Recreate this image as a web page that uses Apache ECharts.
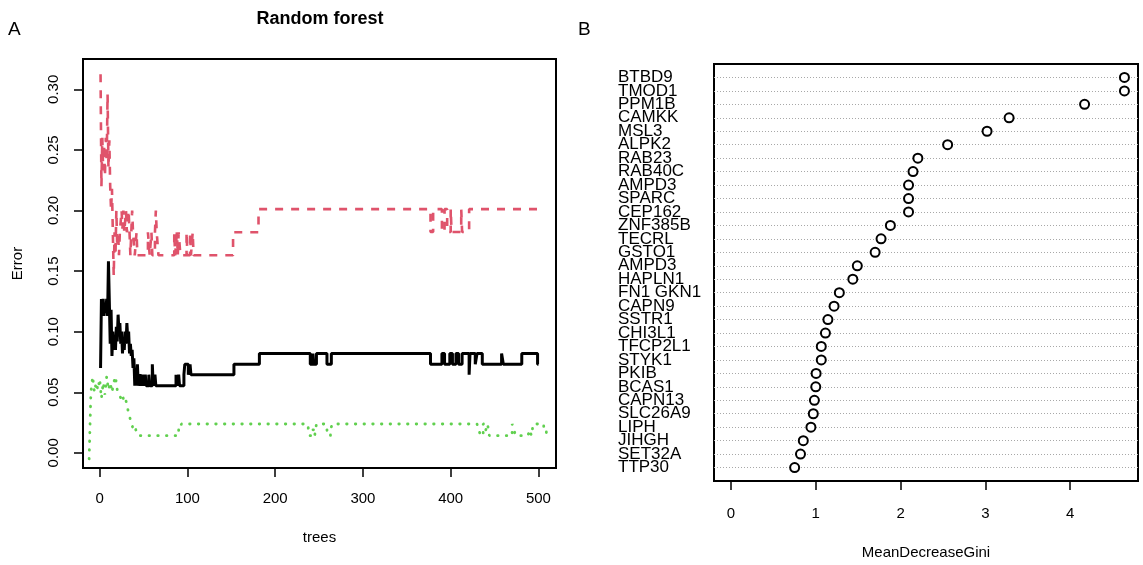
<!doctype html>
<html>
<head>
<meta charset="UTF-8">
<title>Random forest</title>
<script src="https://cdn.jsdelivr.net/npm/echarts@6/dist/echarts.min.js"></script>
<style>
html,body{margin:0;padding:0;background:#fff;}
#main{width:1143px;height:565px;}
</style>
</head>
<body>
<div id="main"></div>
<script>
// A: error rate by number of trees, change points
var oobTrees = [1,2,3,4,5,6,7,8,9,10,11,12,13,14,15,16,17,18,19,20,21,22,23,24,25,26,27,28,29,30,31,32,33,34,35,36,37,38,39,40,41,42,43,44,46,47,49,50,52,53,56,57,60,61,63,64,87,88,90,91,96,97,101,103,104,153,182,240,243,244,247,259,264,377,390,393,399,402,406,409,413,421,422,428,430,436,458,460,481,499,500];
var oobErr = [0.070,0.127,0.118,0.127,0.113,0.122,0.117,0.127,0.113,0.158,0.125,0.09,0.118,0.08,0.1,0.085,0.096,0.085,0.104,0.092,0.114,0.1,0.107,0.09,0.1,0.082,0.094,0.085,0.1,0.09,0.107,0.094,0.1,0.082,0.09,0.08,0.085,0.07,0.078,0.0554,0.0645,0.0554,0.0731,0.0554,0.065,0.0554,0.0645,0.0554,0.0645,0.0554,0.0645,0.0554,0.0731,0.0554,0.0645,0.0554,0.0645,0.0554,0.0645,0.0554,0.0645,0.0731,0.0645,0.0731,0.0645,0.0731,0.0819,0.0731,0.0819,0.0731,0.0819,0.0731,0.0819,0.0731,0.0819,0.0731,0.0819,0.0731,0.0819,0.0731,0.0819,0.0645,0.0819,0.0731,0.0819,0.0731,0.0819,0.0731,0.0819,0.0731,0.0731];

var c1Trees = [1,2,3,4,5,6,7,8,9,10,11,12,13,14,15,16,17,18,19,20,21,22,23,25,26,27,28,30,31,33,34,35,37,38,40,42,43,55,57,59,60,63,64,65,67,85,86,88,89,90,92,99,100,103,104,106,107,152,181,377,380,390,393,396,400,401,408,412,413,421,500];
var c1Err = [0.3125,0.22,0.26,0.233,0.255,0.228,0.26,0.24,0.296,0.235,0.258,0.22,0.2,0.218,0.182,0.146,0.182,0.163,0.2,0.17,0.182,0.163,0.182,0.2,0.185,0.2,0.182,0.2,0.182,0.2,0.182,0.163,0.2,0.182,0.163,0.182,0.163,0.182,0.163,0.182,0.163,0.182,0.2,0.182,0.163,0.182,0.163,0.182,0.163,0.182,0.163,0.182,0.163,0.182,0.163,0.182,0.163,0.182,0.2011,0.1823,0.2011,0.1823,0.2011,0.1823,0.2011,0.1823,0.1823,0.2011,0.1823,0.2011,0.2011];

var c2Trees = [-12,-10,-8,-6,-4,-2,0,2,4,6,8,10,12,14,16,18,20,22,24,26,28,30,32,34,36,38,40,42,44,85,90,93,237,239,242,245,247,258,260,263,265,430,432,434,437,440,442,444,466,470,472,474,488,490,492,494,503,506,509,511];
var c2Err = [-0.005,0.05,0.063,0.05,0.058,0.052,0.061,0.045,0.058,0.048,0.063,0.052,0.058,0.05,0.058,0.063,0.052,0.05,0.045,0.048,0.041,0.043,0.036,0.03,0.025,0.02,0.022,0.017,0.0142,0.0142,0.019,0.0238,0.0238,0.0142,0.019,0.0142,0.0238,0.0238,0.0142,0.019,0.0238,0.0238,0.019,0.0142,0.0238,0.019,0.0238,0.0142,0.0142,0.0238,0.019,0.0142,0.0142,0.019,0.0142,0.0238,0.0238,0.019,0.0142,0.017];

var treeTicks = [0,100,200,300,400,500];
var errTicks = [0,0.05,0.1,0.15,0.2,0.25,0.3];

// B: variable importance, top to bottom
var genes = ['BTBD9','TMOD1','PPM1B','CAMKK','MSL3','ALPK2','RAB23','RAB40C','AMPD3','SPARC','CEP162','ZNF385B','TECRL','GSTO1','AMPD3','HAPLN1','FN1 GKN1','CAPN9','SSTR1','CHI3L1','TFCP2L1','STYK1','PKIB','BCAS1','CAPN13','SLC26A9','LIPH','JIHGH','SET32A','TTP30'];
var gini = [4.64,4.64,4.17,3.28,3.02,2.555,2.204,2.147,2.094,2.094,2.094,1.88,1.77,1.70,1.49,1.437,1.278,1.216,1.143,1.114,1.065,1.065,1.004,1.0,0.984,0.971,0.943,0.853,0.82,0.751];
var giniTicks = [0,1,2,3,4];

var FONT = 'Liberation Sans, Arial, sans-serif';

function pairs(xs, ys) {
	var out = [];
	for (var i = 0; i < xs.length; i++) out.push([xs[i], ys[i]]);
	return out;
}

var n = genes.length;
// rows 1..n, plus empty end rows 0 and n+1 so the min/max label rule touches nothing
var rows = [0], dots = [], rowLines = [];
for (var i = n - 1; i >= 0; i--) rows.push(n - i);
rows.push(n + 1);
for (var i = 0; i < n; i++) {
	dots.push([gini[i], n - i]);
	rowLines.push({ yAxis: n - i });
}
function geneAt(v) {
	var k = n - Math.round(v);
	return (k >= 0 && k < n) ? genes[k] : '';
}

var tickStyle = { color: '#000', width: 1.5 };

var myChart = echarts.init(document.getElementById('main'));
var option = {
	animation: false,
	textStyle: { fontFamily: FONT, color: '#000' },
	title: [
		{ text: 'Random forest', left: 320, top: 10, textAlign: 'center', padding: 0,
		  textStyle: { fontSize: 18, fontWeight: 'bold', color: '#000', fontFamily: FONT } },
		{ text: 'A', left: 8, top: 20, padding: 0,
		  textStyle: { fontSize: 19, fontWeight: 'normal', color: '#000', fontFamily: FONT } },
		{ text: 'B', left: 578, top: 20, padding: 0,
		  textStyle: { fontSize: 19, fontWeight: 'normal', color: '#000', fontFamily: FONT } }
	],
	grid: [
		{ left: 83, top: 59, width: 473, height: 409, show: true, borderColor: '#000', borderWidth: 2, backgroundColor: 'transparent' },
		{ left: 714, top: 64, width: 424, height: 419, show: true, borderColor: '#000', borderWidth: 2, backgroundColor: 'transparent' }
	],
	xAxis: [
		{
			gridIndex: 0, type: 'value', min: -19, max: 520,
			axisLine: { show: false, onZero: false },
			axisTick: { show: true, customValues: treeTicks, length: 9, lineStyle: tickStyle },
			axisLabel: { customValues: treeTicks, margin: 23, fontSize: 15, color: '#000', fontFamily: FONT },
			splitLine: { show: false },
			name: 'trees', nameLocation: 'middle', nameGap: 62,
			nameTextStyle: { fontSize: 15, color: '#000', fontFamily: FONT }
		},
		{
			gridIndex: 1, type: 'value', min: -0.2, max: 4.8,
			axisLine: { show: false, onZero: false },
			axisTick: { show: true, customValues: giniTicks, length: 9, lineStyle: tickStyle },
			axisLabel: { customValues: giniTicks, margin: 25, fontSize: 15, color: '#000', fontFamily: FONT },
			splitLine: { show: false },
			name: 'MeanDecreaseGini', nameLocation: 'middle', nameGap: 64,
			nameTextStyle: { fontSize: 15, color: '#000', fontFamily: FONT }
		}
	],
	yAxis: [
		{
			gridIndex: 0, type: 'value', min: -0.0125, max: 0.325,
			axisLine: { show: false, onZero: false },
			axisTick: { show: true, customValues: errTicks, length: 9, lineStyle: tickStyle },
			axisLabel: { customValues: errTicks, rotate: 90, margin: 22, fontSize: 15, color: '#000', fontFamily: FONT,
				formatter: function (v) { return v.toFixed(2); } },
			splitLine: { show: false },
			name: 'Error', nameLocation: 'middle', nameGap: 58,
			nameTextStyle: { fontSize: 15, color: '#000', fontFamily: FONT }
		},
		{
			gridIndex: 1, type: 'value', min: 0, max: n + 1,
			axisLine: { show: false, onZero: false },
			axisTick: { show: false },
			axisLabel: { customValues: rows, align: 'left', margin: 96, fontSize: 17, color: '#000', fontFamily: FONT,
				showMinLabel: false, showMaxLabel: false, hideOverlap: false,
				formatter: function (v) { return geneAt(v); } },
			splitLine: { show: false }
		}
	],
	series: [
		{
			name: 'OOB', type: 'line', xAxisIndex: 0, yAxisIndex: 0, step: 'end',
			data: pairs(oobTrees, oobErr), symbol: 'none',
			lineStyle: { color: '#000', width: 3 }
		},
		{
			name: '1', type: 'line', xAxisIndex: 0, yAxisIndex: 0, step: 'end',
			data: pairs(c1Trees, c1Err), symbol: 'none',
			lineStyle: { color: '#DF536B', width: 2.6, type: [8, 8] }
		},
		{
			name: '2', type: 'line', xAxisIndex: 0, yAxisIndex: 0, step: 'end',
			data: pairs(c2Trees, c2Err), symbol: 'none',
			lineStyle: { color: '#61D04F', width: 2.8, type: [0.5, 8.2], cap: 'round' }
		},
		{
			name: 'MeanDecreaseGini', type: 'scatter', xAxisIndex: 1, yAxisIndex: 1,
			data: dots, symbol: 'circle', symbolSize: 9,
			itemStyle: { color: '#fff', borderColor: '#000', borderWidth: 2, opacity: 1 },
			markLine: {
				z: 1, silent: true, symbol: ['none', 'none'], label: { show: false },
				lineStyle: { color: '#a8a8a8', type: [1, 2], width: 1 },
				data: rowLines
			}
		}
	]
};
myChart.setOption(option);
</script>
</body>
</html>
